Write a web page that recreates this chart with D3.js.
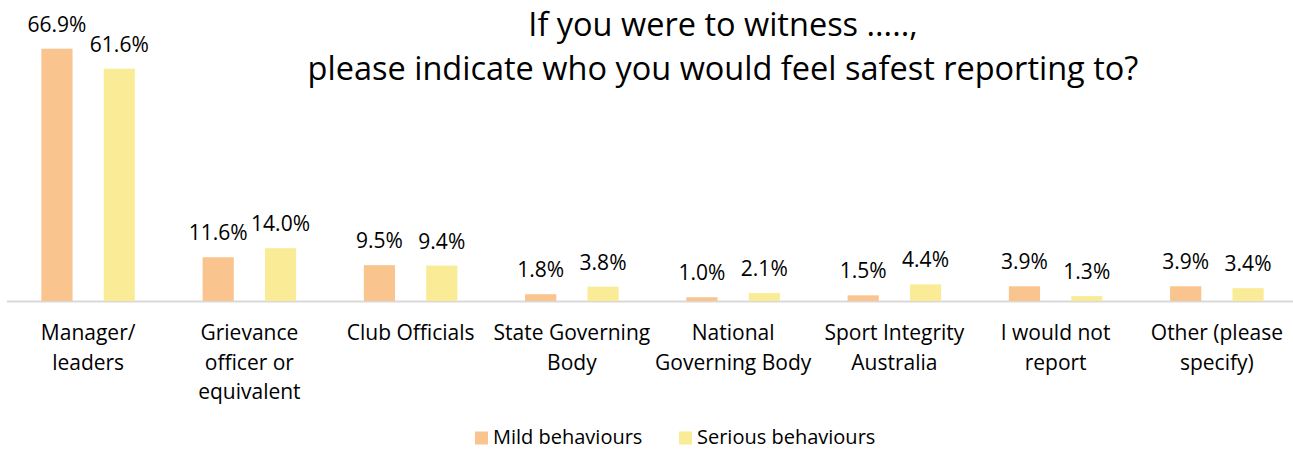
<!DOCTYPE html>
<html>
<head>
<meta charset="utf-8">
<script src="https://cdn.jsdelivr.net/npm/d3@7"></script>
<style>
  html, body { margin: 0; padding: 0; background: #fff; }
  svg { display: block; font-family: "Open Sans", "Noto Sans", sans-serif; }
</style>
</head>
<body>
<svg id="chart" width="1293" height="450"></svg>
<script>
// Categories (line breaks mark where the axis label wraps)
const categories = [
  "Manager/\nleaders",
  "Grievance\nofficer or\nequivalent",
  "Club Officials",
  "State Governing\nBody",
  "National\nGoverning Body",
  "Sport Integrity\nAustralia",
  "I would not\nreport",
  "Other (please\nspecify)"
];
const seriesNames = ["Mild behaviours", "Serious behaviours"];
const mildValues    = [66.9, 11.6, 9.5, 1.8, 1.0, 1.5, 3.9, 3.9];
const seriousValues = [61.6, 14.0, 9.4, 3.8, 2.1, 4.4, 1.3, 3.4];
const colors = ["#F9C48D", "#FAEC96"];
const titleLines = ["If you were to witness .....,", "please indicate who you would feel safest reporting to?"];

const svg = d3.select("#chart");
const W = 1293, H = 450;
const baseY = 301;

const x0 = d3.scaleBand().domain(d3.range(categories.length))
  .range([7.5, 1297.5]).paddingInner(0.42).paddingOuter(0.21);
const x1 = d3.scaleBand().domain([0, 1]).range([0, x0.bandwidth()]).paddingInner(0.5);
const y = d3.scaleLinear().domain([0, 70]).range([baseY, baseY - 264]);

const rows = categories.map((c, i) => ({ c, i, vals: [mildValues[i], seriousValues[i]] }));

// Title
svg.append("g").selectAll("text").data(titleLines).join("text")
  .attr("x", 723).attr("y", (d, i) => 36 + i * 44)
  .attr("text-anchor", "middle").attr("font-size", 32.5).attr("fill", "#000")
  .text(d => d);

// Baseline axis
svg.append("line").attr("x1", 7).attr("x2", W).attr("y1", baseY + 0.5).attr("y2", baseY + 0.5)
  .attr("stroke", "#d9d9d9").attr("stroke-width", 2);

// Bars
const groups = svg.append("g").selectAll("g").data(rows).join("g")
  .attr("transform", d => `translate(${x0(d.i)},0)`);

groups.selectAll("rect").data(d => d.vals.map((v, k) => ({ v, k }))).join("rect")
  .attr("x", d => x1(d.k)).attr("width", x1.bandwidth())
  .attr("y", d => y(d.v)).attr("height", d => y(0) - y(d.v))
  .attr("fill", d => colors[d.k]);

// Value labels
groups.selectAll("text.val").data(d => d.vals.map((v, k) => ({ v, k }))).join("text")
  .attr("class", "val")
  .attr("x", d => x1(d.k) + x1.bandwidth() / 2)
  .attr("y", d => y(d.v) - 17)
  .attr("text-anchor", "middle").attr("font-size", 21).attr("fill", "#000")
  .text(d => d.v.toFixed(1) + "%");

// Category labels
const catG = svg.append("g").selectAll("text").data(rows).join("text")
  .attr("x", d => x0(d.i) + x0.bandwidth() / 2)
  .attr("text-anchor", "middle").attr("font-size", 21).attr("fill", "#000");
catG.selectAll("tspan").data(d => d.c.split("\n").map(t => ({ t, x: x0(d.i) + x0.bandwidth() / 2 }))).join("tspan")
  .attr("x", d => d.x).attr("y", (d, i) => 340 + i * 29.5)
  .text(d => d.t);

// Legend
const legend = svg.append("g");
const legendX = [475, 679];
seriesNames.forEach((name, k) => {
  legend.append("rect").attr("x", legendX[k]).attr("y", 431.5).attr("width", 13).attr("height", 13)
    .attr("fill", colors[k]);
  legend.append("text").attr("x", legendX[k] + 18).attr("y", 443.5)
    .attr("font-size", 20).attr("fill", "#000").text(name);
});
</script>
</body>
</html>
